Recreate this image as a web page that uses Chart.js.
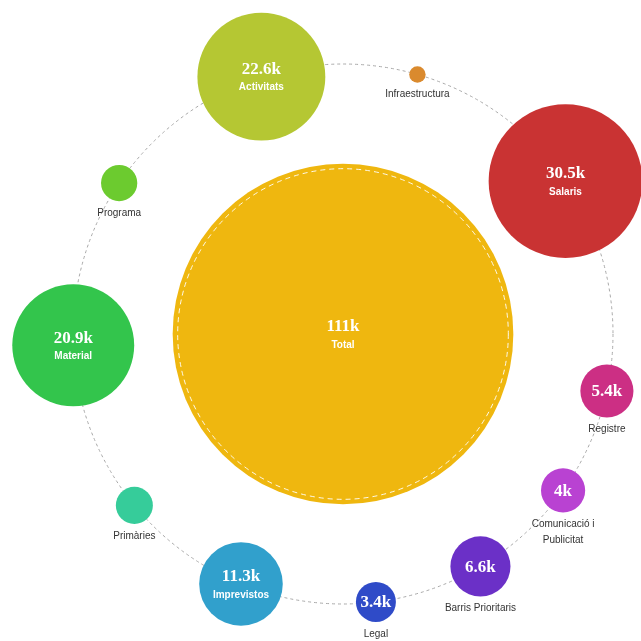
<!DOCTYPE html>
<html>
<head>
<meta charset="utf-8">
<script src="https://cdn.jsdelivr.net/npm/chart.js@4"></script>
<style>
  body { margin: 0; background: #fff; }
  #wrap { width: 641px; height: 641px; }
</style>
</head>
<body>
<div id="wrap"><canvas id="budget" width="641" height="641"></canvas></div>
<script>
const Categories = ["Activitats", "Infraestructura", "Salaris", "Registre", "Comunicació i Publicitat",
  "Barris Prioritaris", "Legal", "Imprevistos", "Primàries", "Material", "Programa"];
const Amounts = [22.6, 0.8, 30.5, 5.4, 4, 6.6, 3.4, 11.3, 3.0, 20.9, 2.9]; // thousands
const Colors = ['#b5c733', '#da8a2e', '#c93333', '#cc2f84', '#b942d2',
  '#6b30c7', '#2f4bc8', '#31a0cc', '#36cc9a', '#33c54c', '#6ccb2f'];
const Total_name = "Total";
const Total_color = '#efb70f';

// slot of each category on the ring, degrees clockwise from 3 o'clock
const Ring_angles = [252.4, 286, 325.5, 12.2, 35.4, 59.4, 83, 112.2, 140.6, 177.6, 214];
const Ring = {cx: 343, cy: 334, r: 270};

const Total = Amounts.reduce((a, b) => a + b, 0);

function bubble_radius(v) {
  return 9.43 * Math.pow(v, 0.614);
}

function fmt_k(v) {
  return Number(v.toPrecision(3)) + "k";
}

function wrap_words(ctx, text, max_w) {
  let lines = [];
  let line = "";
  for (const w of text.split(" ")) {
    const test = line ? line + " " + w : w;
    if (line && ctx.measureText(test).width > max_w) {
      lines.push(line);
      line = w;
    } else {
      line = test;
    }
  }
  lines.push(line);
  return lines;
}

let points = [{x: Ring.cx, y: Ring.cy, r: bubble_radius(Total), name: Total_name, value: Total}];
let colors = [Total_color];
for (let i = 0; i < Categories.length; i++) {
  const a = Ring_angles[i] * Math.PI / 180;
  points.push({
    x: Ring.cx + Ring.r * Math.cos(a),
    y: Ring.cy + Ring.r * Math.sin(a),
    r: bubble_radius(Amounts[i]),
    name: Categories[i],
    value: Amounts[i],
  });
  colors.push(Colors[i]);
}

const ring_plugin = {
  id: 'ring',
  beforeDatasetsDraw(chart) {
    const ctx = chart.ctx;
    const xs = chart.scales.x, ys = chart.scales.y;
    const cx = xs.getPixelForValue(Ring.cx), cy = ys.getPixelForValue(Ring.cy);
    const rr = xs.getPixelForValue(Ring.cx + Ring.r) - cx;
    ctx.save();
    ctx.strokeStyle = '#a8a8a8';
    ctx.lineWidth = 1;
    ctx.setLineDash([3, 3]);
    ctx.beginPath();
    ctx.arc(cx, cy, rr, 0, Math.PI * 2);
    ctx.stroke();
    ctx.restore();
  },
  afterDatasetsDraw(chart) {
    const ctx = chart.ctx;
    const meta = chart.getDatasetMeta(0);
    ctx.save();
    ctx.textAlign = 'center';
    ctx.textBaseline = 'middle';
    meta.data.forEach((el, i) => {
      const p = points[i];
      const r = el.options.radius;
      if (i == 0) {
        // white stitched edge on the total
        ctx.save();
        ctx.strokeStyle = 'rgba(255,255,255,0.9)';
        ctx.lineWidth = 1;
        ctx.setLineDash([5, 4]);
        ctx.beginPath();
        ctx.arc(el.x, el.y, r - 5, 0, Math.PI * 2);
        ctx.stroke();
        ctx.restore();
      }
      if (r > 40) {
        ctx.fillStyle = '#fff';
        ctx.font = 'bold 17px "Liberation Serif"';
        ctx.fillText(fmt_k(p.value), el.x, el.y - 7);
        ctx.font = 'bold 10px "Liberation Sans"';
        ctx.fillText(p.name, el.x, el.y + 11);
        return;
      }
      if (r > 19.5) {
        ctx.fillStyle = '#fff';
        ctx.font = 'bold 17px "Liberation Serif"';
        ctx.fillText(fmt_k(p.value), el.x, el.y + 1);
      }
      ctx.fillStyle = '#333';
      ctx.font = '10px "Liberation Sans"';
      const lines = wrap_words(ctx, p.name, 90);
      lines.forEach((ln, k) => ctx.fillText(ln, el.x, el.y + r + 12 + k * 16));
    });
    ctx.restore();
  }
};

new Chart("budget", {
  type: "bubble",
  data: {
    datasets: [{
      data: points,
      backgroundColor: colors,
      borderWidth: 0,
      hoverBorderWidth: 0,
      clip: false,
    }]
  },
  options: {
    responsive: false,
    animation: false,
    events: [],
    layout: {padding: 0, autoPadding: false},
    scales: {
      x: {type: 'linear', min: 0, max: 641, display: false},
      y: {type: 'linear', min: 0, max: 641, reverse: true, display: false},
    },
    plugins: {
      legend: {display: false},
      tooltip: {enabled: false},
    },
  },
  plugins: [ring_plugin],
});
</script>
</body>
</html>
